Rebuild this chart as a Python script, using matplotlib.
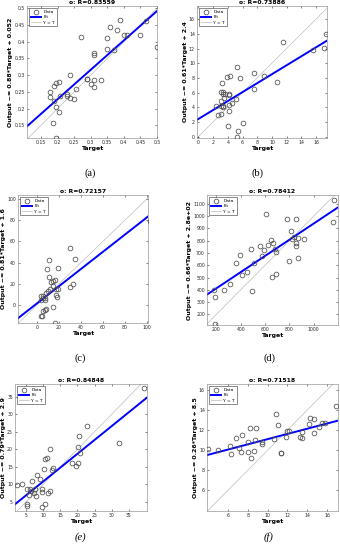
import matplotlib
matplotlib.use("Agg")
import matplotlib.pyplot as plt
import numpy as np

# panel (a)
a_target = [0.27, 0.388, 0.468, 0.358, 0.378, 0.40, 0.41, 0.45, 0.35, 0.5, 0.35, 0.37,
            0.31, 0.31, 0.238, 0.29, 0.29, 0.31, 0.33, 0.30, 0.31, 0.206, 0.196, 0.188,
            0.176, 0.176, 0.229, 0.229, 0.207, 0.257, 0.239, 0.249, 0.188, 0.196, 0.206,
            0.186, 0.196]
a_output = [0.413, 0.464, 0.463, 0.445, 0.434, 0.420, 0.421, 0.421, 0.411, 0.385, 0.379, 0.374,
            0.366, 0.361, 0.301, 0.290, 0.289, 0.286, 0.286, 0.274, 0.266, 0.281, 0.276, 0.268,
            0.251, 0.236, 0.244, 0.238, 0.237, 0.258, 0.231, 0.229, 0.223, 0.205, 0.190,
            0.157, 0.112]

# panel (b)
b_target = [17.3, 11.45, 17.1, 15.6, 5.2, 7.6, 8.95, 3.86, 4.3, 5.6, 3.2, 10.7, 7.5, 3.05,
            3.3, 3.3, 3.6, 4.1, 4.1, 3.5, 5.1, 4.6, 3.0, 4.2, 3.3, 3.3, 3.0, 2.4, 4.1,
            3.05, 2.7, 4.0, 6.0, 5.4, 5.2]
b_output = [14.0, 12.95, 12.1, 11.8, 9.5, 8.7, 8.3, 8.1, 8.2, 7.95, 7.3, 7.45, 6.55, 6.1,
            6.1, 5.8, 5.8, 5.8, 5.6, 5.2, 5.1, 4.6, 4.8, 4.3, 4.2, 4.0, 4.1, 4.2, 3.45,
            3.1, 2.9, 1.45, 1.9, 0.7, -0.1]

# panel (c)
c_target = [103, 30.3, 35, 10.9, 9.1, 18.8, 10.9, 16.4, 14.5, 13, 33, 14.5, 30, 12.1, 17,
            19, 10, 8.5, 5.5, 17, 18.5, 3.9, 5.5, 7, 7.6, 3.9, 14.5, 8.5, 7, 5.5, 4.8,
            3.9, 16]
c_output = [79, 53.4, 43, 42.5, 34.4, 35, 26.9, 23.8, 22.8, 21.3, 19.7, 18, 16.9, 15.3, 15.3,
            15.3, 12.8, 11.5, 9, 9.7, 7.2, 8.1, 6.6, 6.6, 5, 4.4, -1.9, -3.75, -5, -6, -10.6,
            -10, -17]

# panel (d)
d_target = [1170, 1160, 611, 784, 858, 811, 836, 819, 874, 852, 858, 921, 652, 666, 625,
            562, 488, 589, 684, 693, 578, 397, 507, 359, 797, 871, 688, 660, 414, 452,
            315, 260, 178, 496, 186, 192]
d_output = [1130, 955, 1016, 975, 975, 883, 828, 812, 823, 785, 758, 812, 807, 779, 766,
            760, 730, 725, 736, 711, 679, 684, 622, 616, 635, 657, 529, 508, 521, 543,
            448, 399, 399, 391, 339, 122]

# panel (e)
e_target = [39.5, 22.8, 20.4, 32.2, 20.1, 12, 20.8, 20.3, 18.4, 19.6, 11.25, 10.5, 10.2, 13,
            12.5, 8.1, 6.9, 9.1, 3.7, 2.3, 5.2, 6.2, 6.4, 9.6, 7.6, 12, 11.5, 6, 7.4, 7.8,
            9.6, 10.6, 5.4, 5.2, 9.6]
e_output = [37.6, 26.7, 23.8, 21.9, 20.6, 20.2, 18.8, 16.1, 16.2, 15.2, 17.6, 17.2, 14.5, 14.7,
            14, 12.6, 11, 11.4, 10, 9.7, 8.8, 8.8, 8.1, 8.8, 8.7, 8, 7.4, 7.1, 7.4, 6.6,
            7.9, 4.3, 4.3, 3.8, 3.5]

# panel (f)
f_target = [16.9, 10.8, 14.3, 14.65, 14.2, 15.5, 15.75, 15.2, 11, 8.2, 8.8, 12, 12.2, 13.5,
            14.65, 7.4, 6.8, 11.9, 10.6, 13.3, 13.5, 8.7, 8.0, 9.4, 9.4, 6.2, 7.1, 3.95,
            5, 8.6, 8.0, 7.3, 6.3, 11.3, 11.35, 8.3]
f_output = [14.4, 13.6, 13.2, 13.1, 12.6, 12.7, 12.7, 12.3, 12.5, 12.2, 12.2, 11.9, 11.9, 11.8,
            11.7, 11.5, 11.2, 11.3, 11.1, 11.3, 11.2, 11.0, 10.8, 10.8, 10.6, 10.4, 10.2, 10.1,
            10, 9.9, 9.8, 9.8, 9.6, 9.7, 9.7, 9.2]

panels = [
    (a_target, a_output, 0.88, 0.052, "0.88", "0.052", "0.83559", (0.108, 0.5), (0.112, 0.507),
     np.arange(0.15, 0.51, 0.05), np.arange(0.15, 0.51, 0.05), "%g", "(a)"),
    (b_target, b_output, 0.61, 2.4, "0.61", "2.4", "0.73886", (-0.2, 17.5), (-0.2, 17.8),
     np.arange(0, 17, 2), np.arange(0, 17, 2), "%d", "(b)"),
    (c_target, c_output, 0.81, 1.6, "0.81", "1.6", "0.72157", (-17.3, 101), (-16.9, 103.7),
     np.arange(0, 101, 20), np.arange(0, 101, 20), "%d", "(c)"),
    (d_target, d_output, 0.66, 280, "0.66", "2.8e+02", "0.78412", (123, 1200), (113, 1173),
     np.arange(200, 1001, 200), np.arange(200, 1101, 100), "%d", "(d)"),
    (e_target, e_output, 0.79, 2.9, "0.79", "2.9", "0.84848", (1.8, 40.3), (2.4, 38.6),
     np.arange(5, 36, 5), np.arange(5, 36, 5), "%d", "(e)"),
    (f_target, f_output, 0.26, 8.5, "0.26", "8.5", "0.71518", (3.88, 17.1), (3.93, 16.6),
     np.arange(6, 17, 2), np.arange(6, 17, 2), "%d", "(f)"),
]

# axes boxes in pixels: left, top, right, bottom
boxes = [(27, 6, 157, 138), (197, 6, 327, 138),
         (18, 195, 148, 323), (207, 195, 338, 325),
         (15, 384, 147, 511), (207, 384, 338, 511)]
captions = [(90, 173), (258, 173), (80, 358), (269, 358), (80, 537), (269, 537)]

W, H = 340, 550
fig = plt.figure(figsize=(W / 100, H / 100), dpi=100)

for p, box, cap in zip(panels, boxes, captions):
    t, o, m, b, ms, bs, r, xl, yl, xt, yt, fmt, label = p
    x0, y0, x1, y1 = box
    ax = fig.add_axes([x0 / W, 1 - y1 / H, (x1 - x0) / W, (y1 - y0) / H])
    lo = min(xl[0], yl[0])
    hi = max(xl[1], yl[1])
    ax.plot(t, o, "o", mfc="none", mec="#4d4d4d", ms=3.4, mew=0.55, label="Data", zorder=3)
    xx = np.array([lo, hi])
    ax.plot(xx, m * xx + b, color="#0000ff", lw=1.4, label="Fit", zorder=2)
    ax.plot(xx, xx, "-", color="#bdbdbd", lw=0.5, label="Y = T", zorder=1)
    ax.set_xlim(xl)
    ax.set_ylim(yl)
    ax.set_xticks(xt)
    ax.set_yticks(yt)
    ax.set_xticklabels([fmt % v if fmt == "%d" else "%g" % round(v, 2) for v in xt])
    ax.set_yticklabels([fmt % v if fmt == "%d" else "%g" % round(v, 2) for v in yt])
    ax.tick_params(direction="in", length=1.5, width=0.4, labelsize=3.3, pad=1.5,
                   top=True, right=True, colors="#262626")
    for s in ax.spines.values():
        s.set_linewidth(0.4)
        s.set_color("#7f7f7f")
    ax.set_title("o: R=" + r, fontsize=4.4, fontweight="bold", pad=1.5)
    ax.set_xlabel("Target", fontsize=4.5, fontweight="semibold", labelpad=1)
    ax.set_ylabel("Output ~= " + ms + "*Target + " + bs, fontsize=4.5,
                  fontweight="semibold", labelpad=1)
    leg = ax.legend(loc="upper left", fontsize=3.2, handlelength=2.2, borderpad=0.4,
                    labelspacing=0.25, handletextpad=0.6, fancybox=False, framealpha=1)
    leg.get_frame().set_linewidth(0.4)
    leg.get_frame().set_edgecolor("#333333")
    style = "italic" if label in ("(e)", "(f)") else "normal"
    fig.text(cap[0] / W, 1 - cap[1] / H, label, fontsize=7.5, family="Liberation Serif",
             style=style, ha="center", va="center")

fig.savefig("out.png", dpi=100)
